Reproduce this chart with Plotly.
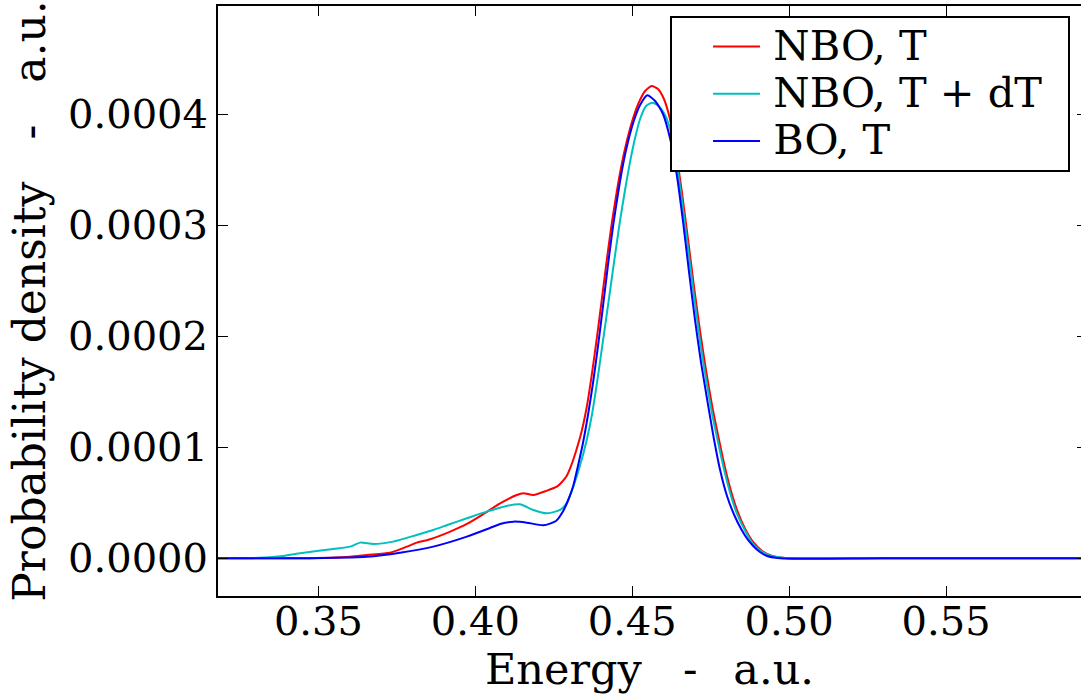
import plotly.graph_objects as go

# ---- data ----
energy_nbo_t = [0.3180, 0.3442, 0.3601, 0.3654, 0.3728, 0.3782, 0.3814, 0.3856, 0.3920, 0.3973,
                0.4026, 0.4079, 0.4132, 0.4153, 0.4185, 0.4228, 0.4260, 0.4276, 0.4291, 0.4305,
                0.4321, 0.4339, 0.4355, 0.4370, 0.4386, 0.4402, 0.4418, 0.4434, 0.4450, 0.4466,
                0.4482, 0.4500, 0.4519, 0.4541, 0.4562, 0.4582, 0.4601, 0.4621, 0.4640, 0.4659,
                0.4678, 0.4697, 0.4716, 0.4735, 0.4754, 0.4774, 0.4793, 0.4812, 0.4834, 0.4860,
                0.4885, 0.4914, 0.4946, 0.4987, 0.5034, 0.5300, 0.5930]
dens_nbo_t = [0.0, 0.0, 0.014e-4, 0.030e-4, 0.050e-4, 0.105e-4, 0.141e-4, 0.171e-4, 0.240e-4, 0.309e-4,
              0.399e-4, 0.495e-4, 0.570e-4, 0.586e-4, 0.570e-4, 0.609e-4, 0.645e-4, 0.687e-4, 0.741e-4, 0.832e-4,
              0.967e-4, 1.147e-4, 1.363e-4, 1.633e-4, 1.958e-4, 2.309e-4, 2.669e-4, 3.003e-4, 3.291e-4, 3.543e-4,
              3.750e-4, 3.940e-4, 4.093e-4, 4.210e-4, 4.255e-4, 4.228e-4, 4.138e-4, 3.949e-4, 3.651e-4, 3.282e-4,
              2.868e-4, 2.444e-4, 2.048e-4, 1.696e-4, 1.381e-4, 1.102e-4, 0.850e-4, 0.633e-4, 0.435e-4, 0.264e-4,
              0.147e-4, 0.066e-4, 0.021e-4, 0.003e-4, 0.0, 0.0, 0.0]

energy_nbo_tdt = [0.3180, 0.3282, 0.3388, 0.3442, 0.3547, 0.3601, 0.3633, 0.3675, 0.3738, 0.3813,
                  0.3866, 0.3920, 0.3973, 0.4036, 0.4100, 0.4142, 0.4185, 0.4227, 0.4270, 0.4291,
                  0.4312, 0.4334, 0.4355, 0.4372, 0.4388, 0.4404, 0.4423, 0.4442, 0.4461, 0.4477,
                  0.4493, 0.4509, 0.4525, 0.4544, 0.4564, 0.4582, 0.4601, 0.4621, 0.4640, 0.4659,
                  0.4678, 0.4697, 0.4716, 0.4735, 0.4754, 0.4774, 0.4793, 0.4812, 0.4834, 0.4860,
                  0.4885, 0.4914, 0.4946, 0.4987, 0.5034, 0.5300, 0.5930]
dens_nbo_tdt = [0.0, 0.0, 0.021e-4, 0.045e-4, 0.084e-4, 0.105e-4, 0.141e-4, 0.129e-4, 0.150e-4, 0.210e-4,
                0.255e-4, 0.309e-4, 0.360e-4, 0.420e-4, 0.471e-4, 0.486e-4, 0.435e-4, 0.405e-4, 0.435e-4, 0.495e-4,
                0.645e-4, 0.841e-4, 1.066e-4, 1.300e-4, 1.588e-4, 1.904e-4, 2.282e-4, 2.669e-4, 3.039e-4, 3.318e-4,
                3.570e-4, 3.786e-4, 3.958e-4, 4.075e-4, 4.105e-4, 4.079e-4, 4.012e-4, 3.868e-4, 3.588e-4, 3.210e-4,
                2.786e-4, 2.363e-4, 1.958e-4, 1.615e-4, 1.309e-4, 1.039e-4, 0.795e-4, 0.588e-4, 0.399e-4, 0.246e-4,
                0.129e-4, 0.057e-4, 0.018e-4, 0.003e-4, 0.0, 0.0, 0.0]

energy_bo_t = [0.3180, 0.3442, 0.3654, 0.3760, 0.3866, 0.3973, 0.4036, 0.4079, 0.4122, 0.4164,
               0.4217, 0.4257, 0.4280, 0.4296, 0.4312, 0.4327, 0.4343, 0.4359, 0.4375, 0.4391,
               0.4407, 0.4423, 0.4439, 0.4455, 0.4471, 0.4487, 0.4506, 0.4525, 0.4548, 0.4573,
               0.4598, 0.4621, 0.4643, 0.4662, 0.4681, 0.4700, 0.4719, 0.4739, 0.4758, 0.4780,
               0.4802, 0.4825, 0.4847, 0.4869, 0.4895, 0.4926, 0.4971, 0.5300, 0.5930]
dens_bo_t = [0.0, 0.0, 0.014e-4, 0.050e-4, 0.105e-4, 0.195e-4, 0.261e-4, 0.309e-4, 0.330e-4, 0.321e-4,
             0.297e-4, 0.336e-4, 0.426e-4, 0.525e-4, 0.651e-4, 0.832e-4, 1.039e-4, 1.291e-4, 1.579e-4, 1.913e-4,
             2.273e-4, 2.651e-4, 2.994e-4, 3.291e-4, 3.552e-4, 3.759e-4, 3.949e-4, 4.084e-4, 4.171e-4, 4.120e-4,
             4.003e-4, 3.777e-4, 3.435e-4, 3.030e-4, 2.579e-4, 2.147e-4, 1.768e-4, 1.426e-4, 1.111e-4, 0.795e-4,
             0.561e-4, 0.390e-4, 0.264e-4, 0.165e-4, 0.084e-4, 0.025e-4, 0.0, 0.0, 0.0]

series_names = ["NBO, T", "NBO, T + dT", "BO, T"]
series_colors = ["#ff0000", "#00bfbf", "#0000ff"]

x_ticks = [0.35, 0.40, 0.45, 0.50, 0.55]
y_ticks = [0.0, 0.0001, 0.0002, 0.0003, 0.0004]
x_range = [0.3180, 0.5930]
y_range = [-0.0000340, 0.0004976]

FONT = "DejaVu Serif"
NB = "\u00a0"

fig = go.Figure()
for xs, ys, name, col in [(energy_nbo_t, dens_nbo_t, series_names[0], series_colors[0]),
                          (energy_nbo_tdt, dens_nbo_tdt, series_names[1], series_colors[1]),
                          (energy_bo_t, dens_bo_t, series_names[2], series_colors[2])]:
    fig.add_trace(go.Scatter(x=xs, y=ys, mode="lines",
                             name=f'<span style="font-size:41.5px">\u2009{name}\u2002</span>',
                             line=dict(color=col, width=2, shape="spline", smoothing=0.6)))

# invisible trace to carry right-hand y ticks
fig.add_trace(go.Scatter(x=[x_range[0]], y=[0], yaxis="y2", mode="lines",
                         showlegend=False, hoverinfo="skip", line=dict(width=0)))

fig.update_layout(
    width=1081, height=698,
    margin=dict(l=218, r=0, t=6, b=102),
    paper_bgcolor="white", plot_bgcolor="white",
    font=dict(family=FONT, size=40, color="black"),
    showlegend=True,
    legend=dict(x=0.9873, y=0.9831, xanchor="right", yanchor="top",
                bordercolor="black", borderwidth=2, bgcolor="white",
                itemwidth=47, indentation=36,
                font=dict(family=FONT, size=34, color="black")),
    xaxis=dict(range=x_range, tickvals=x_ticks, ticktext=[f"{v:.2f}" for v in x_ticks],
               showgrid=False, zeroline=False, showline=True, linecolor="black", linewidth=2,
               ticks="inside", ticklen=10, tickwidth=1, tickcolor="black", mirror="ticks",
               tickfont=dict(family=FONT, size=40), ticklabelstandoff=-11,
               title=dict(text=f"Energy{NB*3}-{NB*2}\u2009a.u.", font=dict(family=FONT, size=43), standoff=8)),
    yaxis=dict(range=y_range, tickvals=y_ticks, ticktext=[f"{v:.4f}" for v in y_ticks],
               showgrid=False, zeroline=False, showline=True, linecolor="black", linewidth=2,
               ticks="inside", ticklen=10, tickwidth=1, tickcolor="black",
               tickfont=dict(family=FONT, size=40), ticklabelstandoff=0,
               title=dict(text=f"Probability density{NB*3}-{NB*3}a.u.", font=dict(family=FONT, size=44), standoff=9)),
    yaxis2=dict(range=y_range, tickvals=y_ticks, overlaying="y", side="right",
                showgrid=False, zeroline=False, showline=False, showticklabels=False,
                ticks="inside", ticklen=4, tickwidth=1, tickcolor="black"),
)

fig.write_html("out.html")
